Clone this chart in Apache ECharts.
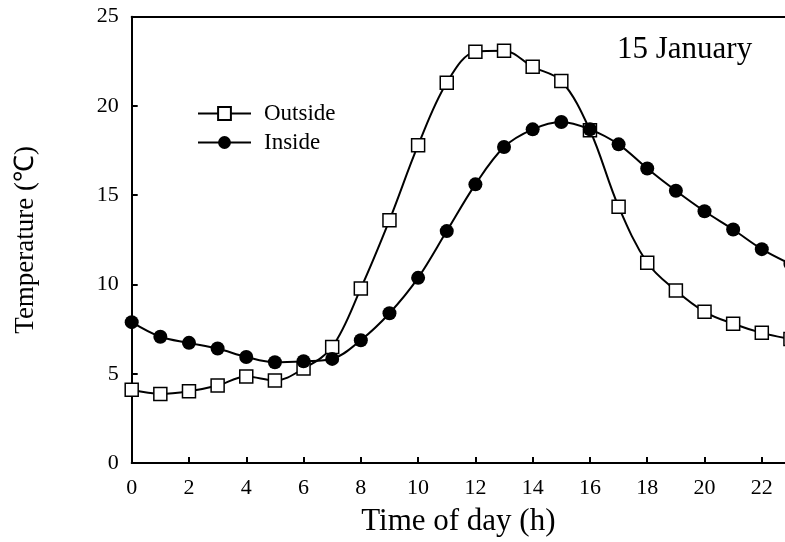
<!DOCTYPE html>
<html>
<head>
<meta charset="utf-8">
<script src="https://cdn.jsdelivr.net/npm/echarts@6/dist/echarts.min.js"></script>
<style>html,body{margin:0;padding:0;background:#fff}#c{width:785px;height:542px}</style>
</head>
<body>
<div id="c"></div>
<script>
const hours = [0,1,2,3,4,5,6,7,8,9,10,11,12,13,14,15,16,17,18,19,20,21,22,23];
const outside = [4.1,3.87,4.02,4.34,4.84,4.62,5.29,6.5,9.78,13.6,17.8,21.3,23.03,23.09,22.19,21.4,18.64,14.36,11.22,9.66,8.47,7.8,7.29,6.95];
const inside = [7.89,7.07,6.73,6.41,5.94,5.64,5.7,5.83,6.88,8.39,10.37,12.99,15.61,17.7,18.69,19.1,18.69,17.85,16.5,15.25,14.1,13.08,11.98,11.15];
const seriesNames = ['Outside','Inside'];
const xTitle = 'Time of day (h)';
const yTitle = 'Temperature (\u2103)';
const dateLabel = '15 January';

const font = 'Liberation Serif';
const chart = echarts.init(document.getElementById('c'), null, {renderer:'canvas'});
const pair = (arr) => hours.map((h,i)=>[h, arr[i]]);
chart.setOption({
  animation:false,
  backgroundColor:'#fff',
  title:{text:dateLabel,left:612,top:29,textStyle:{fontFamily:font,fontSize:31,fontWeight:'normal',color:'#000'}},
  grid:{left:131.7,top:16.7,bottom:78.7,right:0,show:false},
  legend:{orient:'vertical',left:192,top:97,itemWidth:53,itemHeight:16,itemGap:6,
    textStyle:{fontFamily:font,fontSize:23,color:'#000',padding:[0,0,0,8]},
    data:seriesNames},
  xAxis:[{type:'value',min:0,max:22.81,interval:2,
    name:xTitle,nameLocation:'middle',nameGap:43,
    nameTextStyle:{fontFamily:font,fontSize:31,color:'#000'},
    axisLine:{lineStyle:{color:'#000',width:2}},
    axisTick:{inside:true,length:6,lineStyle:{color:'#000',width:2}},
    axisLabel:{fontFamily:font,fontSize:22,color:'#000',margin:14,showMaxLabel:false},
    splitLine:{show:false}},
   {type:'value',position:'top',min:0,max:22.81,interval:2,
    axisLine:{show:true,lineStyle:{color:'#000',width:2}},
    axisTick:{show:false},axisLabel:{show:false},splitLine:{show:false}}],
  yAxis:{type:'value',min:0,max:25,interval:5,
    name:yTitle,nameLocation:'middle',nameGap:92,
    nameTextStyle:{fontFamily:font,fontSize:27,color:'#000'},
    axisLine:{show:true,lineStyle:{color:'#000',width:2}},
    axisTick:{show:true,inside:true,length:6,lineStyle:{color:'#000',width:2}},
    axisLabel:{fontFamily:font,fontSize:22,color:'#000',margin:13},
    splitLine:{show:false}},
  series:[
    {name:seriesNames[0],type:'line',data:pair(outside),smooth:0.35,clip:false,
     symbol:'rect',symbolSize:13,
     lineStyle:{color:'#000',width:2},
     itemStyle:{color:'#fff',borderColor:'#000',borderWidth:1.5}},
    {name:seriesNames[1],type:'line',data:pair(inside),smooth:0.35,clip:false,
     symbol:'circle',symbolSize:14,
     lineStyle:{color:'#000',width:2},
     itemStyle:{color:'#000',borderColor:'#000',borderWidth:0}}
  ]
});
</script>
</body>
</html>
